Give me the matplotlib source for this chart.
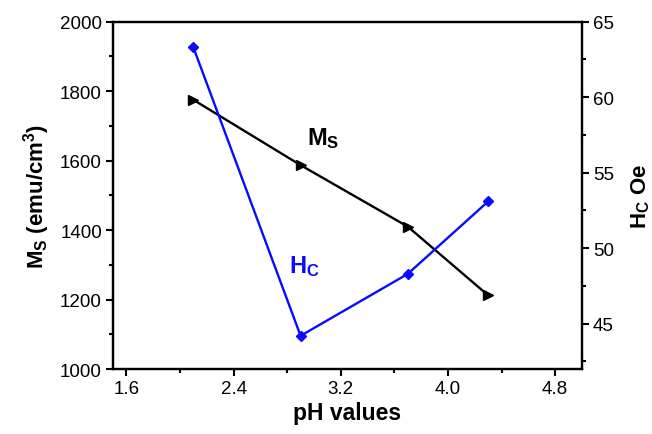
import matplotlib
matplotlib.use('Agg')
import matplotlib.pyplot as plt
from matplotlib.ticker import MultipleLocator

plt.rcParams['font.family'] = 'Liberation Sans'
plt.rcParams['mathtext.fontset'] = 'custom'
plt.rcParams['mathtext.rm'] = 'Liberation Sans'
plt.rcParams['mathtext.it'] = 'Liberation Sans:italic'
plt.rcParams['mathtext.bf'] = 'Liberation Sans:bold'

# data
ph = [2.1, 2.9, 3.7, 4.3]
ms = [1775, 1587, 1410, 1212]
hc = [63.3, 44.2, 48.3, 53.1]

fig = plt.figure(figsize=(6.52, 4.35), dpi=100)
ax = fig.add_axes([0.1733, 0.1494, 0.7193, 0.7984])
ax2 = ax.twinx()

ax.plot(ph, ms, color='black', lw=1.7, marker='>', ms=6.5)
ax2.plot(ph, hc, color='#0a0aff', lw=1.7, marker='D', ms=5)

ax.set_xlim(1.5, 5.0)
ax.set_ylim(1000, 2000)
ax2.set_ylim(42, 65)

ax.set_xticks([1.6, 2.4, 3.2, 4.0, 4.8])
ax.xaxis.set_minor_locator(MultipleLocator(0.4))
ax.yaxis.set_major_locator(MultipleLocator(200))
ax.yaxis.set_minor_locator(MultipleLocator(100))
ax2.yaxis.set_major_locator(MultipleLocator(5))
ax2.yaxis.set_minor_locator(MultipleLocator(2.5))

for a in (ax, ax2):
    for s in a.spines.values():
        s.set_linewidth(1.6)
    a.tick_params(which='major', direction='out', length=5, width=1.5, labelsize=13.5, pad=3)
    a.tick_params(which='minor', direction='out', length=3, width=1.5)
ax.tick_params(top=False, right=False, which='both')
ax2.tick_params(left=False, which='both')

ax.set_xlabel('pH values', fontsize=16.5, fontweight='bold', labelpad=3)
ax.set_ylabel(r'$\mathbf{M_S}$ (emu/cm$^\mathbf{3}$)', fontsize=16, fontweight='bold', labelpad=6)
ax2.set_ylabel(r'$\mathbf{H_C}$ Oe', fontsize=16, fontweight='bold', rotation=90, labelpad=11)

ax.text(2.95, 1648, r'$\mathbf{M_S}$', fontsize=17, color='black')
ax2.text(2.81, 48.4, r'$\mathbf{H_C}$', fontsize=17, color='#0a0aff')

fig.savefig('out.png', dpi=100)
